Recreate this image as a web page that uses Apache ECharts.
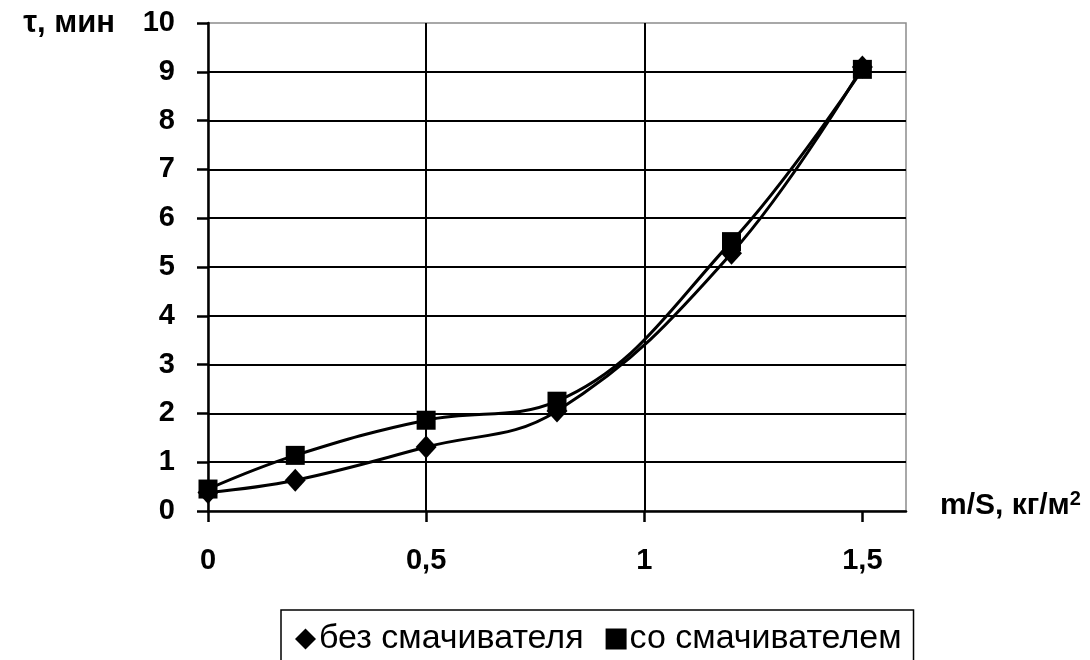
<!DOCTYPE html>
<html><head><meta charset="utf-8">
<script src="https://cdn.jsdelivr.net/npm/echarts@6/dist/echarts.min.js"></script>
<style>html,body{margin:0;padding:0;background:#fff}#c{width:1090px;height:660px}</style>
</head><body><div id="c"></div>
<script>
const xValues = [0, 0.2, 0.5, 0.8, 1.2, 1.5];
const withoutWetter = [0.38, 0.63, 1.31, 2.05, 5.28, 9.1];
const withWetter = [0.45, 1.14, 1.86, 2.25, 5.52, 9.05];
const xTicks = [0, 0.5, 1, 1.5];
const seriesNames = ['без смачивателя', 'со смачивателем'];
const xAxisTitle = 'm/S, кг/м{sup|2}';
const yAxisTitle = 'τ, мин';

const FONT = '"Liberation Sans", Arial, sans-serif';
const pairs = (ys) => xValues.map((x, i) => [x, ys[i]]);
const fmt = (v) => String(v).replace('.', ',');

const chart = echarts.init(document.getElementById('c'), null, {renderer: 'canvas'});
chart.setOption({
  animation: false,
  backgroundColor: '#fff',
  grid: {left: 208, top: 23, right: 184, height: 488, show: true, borderColor: '#8c8c8c', borderWidth: 1.5, backgroundColor: 'transparent'},
  xAxis: {
    type: 'value', min: 0, max: 1.6, interval: 0.5,
    name: xAxisTitle, nameLocation: 'end', nameGap: 34,
    nameTextStyle: {fontFamily: FONT, fontWeight: 'bold', fontSize: 30, color: '#000', align: 'left', verticalAlign: 'middle', padding: [0, 0, 10, 0],
      rich: {sup: {fontFamily: FONT, fontWeight: 'bold', fontSize: 20, color: '#000', verticalAlign: 'top', padding: [0, 0, 14, 0]}}},
    axisLine: {show: true, onZero: false, lineStyle: {color: '#000', width: 2.5}},
    axisTick: {show: true, inside: false, length: 11, customValues: xTicks, lineStyle: {color: '#000', width: 2.5}},
    axisLabel: {customValues: xTicks, margin: 35, formatter: fmt, fontFamily: FONT, fontWeight: 'bold', fontSize: 29, color: '#000'},
    splitLine: {show: true, showMinLine: false, showMaxLine: false, lineStyle: {color: '#000', width: 2}}
  },
  yAxis: {
    type: 'value', min: 0, max: 10, interval: 1,
    name: yAxisTitle, nameLocation: 'end', nameGap: 0,
    nameTextStyle: {fontFamily: FONT, fontWeight: 'bold', fontSize: 31, color: '#000', align: 'right', verticalAlign: 'middle', padding: [0, 93, 0, 0]},
    axisLine: {show: true, lineStyle: {color: '#000', width: 2.5}},
    axisTick: {show: true, inside: false, length: 11, lineStyle: {color: '#000', width: 2.5}},
    axisLabel: {margin: 33, fontFamily: FONT, fontWeight: 'bold', fontSize: 29, color: '#000'},
    splitLine: {show: true, showMinLine: false, showMaxLine: false, lineStyle: {color: '#000', width: 2}}
  },
  legend: {
    left: 281, top: 610, orient: 'horizontal',
    borderColor: '#000', borderWidth: 1.5, backgroundColor: '#fff',
    padding: [12, 12, 40, 14], itemGap: 22, itemWidth: 21, itemHeight: 21,
    textStyle: {fontFamily: FONT, fontSize: 34, color: '#000', padding: [0, 0, 0, -2]},
    data: [{name: seriesNames[0], icon: 'diamond'}, {name: seriesNames[1], icon: 'rect'}]
  },
  series: [
    {name: seriesNames[0], type: 'line', data: pairs(withoutWetter), smooth: 0.4,
     symbol: 'diamond', symbolSize: [21, 23], itemStyle: {color: '#000'},
     lineStyle: {color: '#000', width: 3}},
    {name: seriesNames[1], type: 'line', data: pairs(withWetter), smooth: 0.4,
     symbol: 'rect', symbolSize: 19, itemStyle: {color: '#000'},
     lineStyle: {color: '#000', width: 3}}
  ]
});
</script></body></html>
